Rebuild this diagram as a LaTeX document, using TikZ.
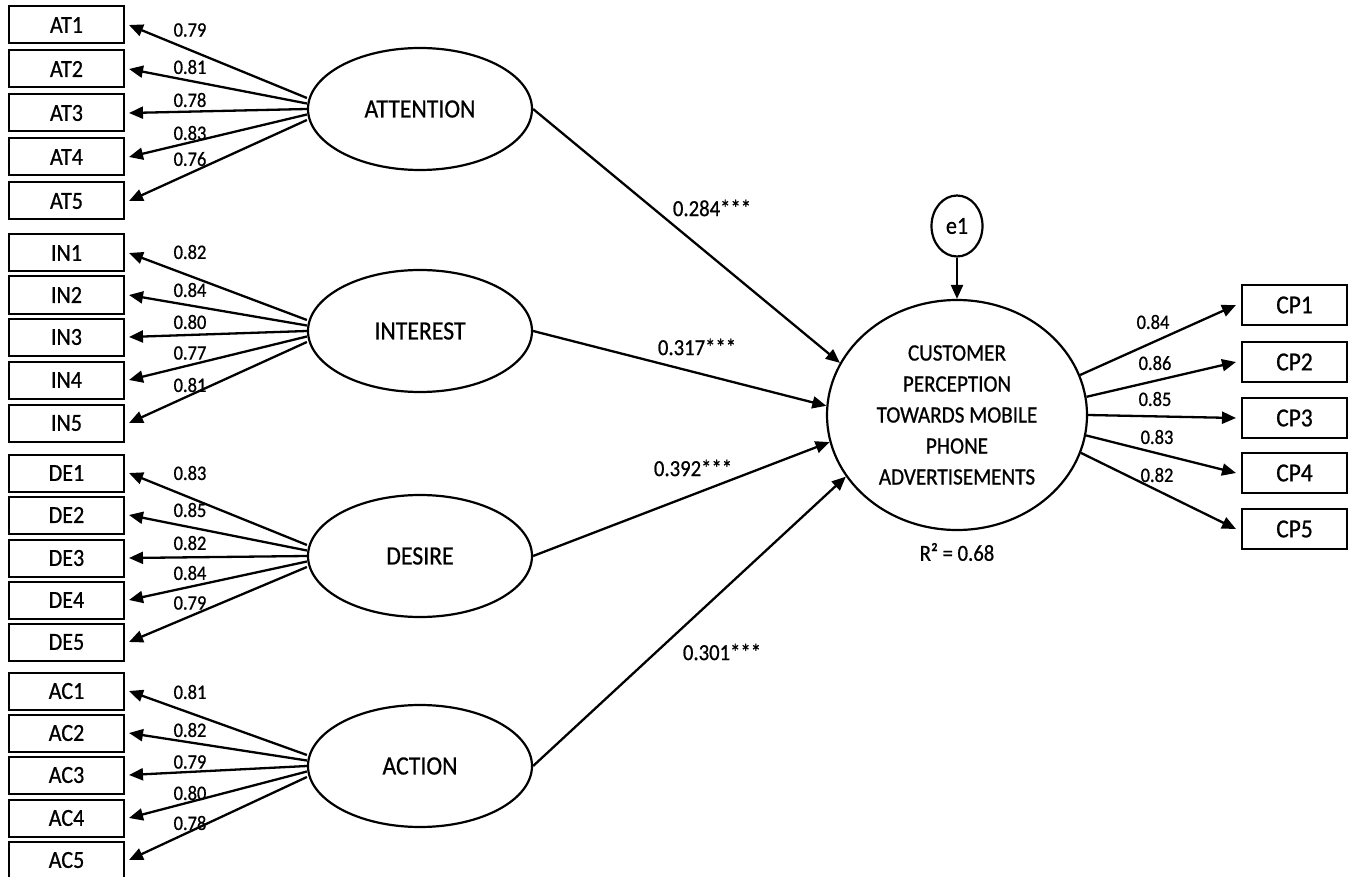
\documentclass[tikz,border=0pt]{standalone}
\usepackage{fontspec}
\setmainfont{Carlito}[FakeStretch=0.9,FakeBold=0.7]
\usetikzlibrary{shapes.geometric,arrows.meta,calc}
\begin{document}
\begin{tikzpicture}[x=1pt,y=-1pt,
  ind/.style={draw,line width=2pt,minimum width=115pt,minimum height=37pt,inner sep=0pt,font=\fontsize{24.5}{24.5}\selectfont},
  cpbox/.style={draw,line width=2pt,minimum width=105pt,minimum height=40pt,inner sep=0pt,font=\fontsize{26}{26}\selectfont},
  lat/.style={ellipse,draw,line width=2.2pt,minimum width=224pt,minimum height=122pt,inner sep=0pt,font=\fontsize{26.4}{26.4}\selectfont},
  arr/.style={line width=2.3pt,-{Triangle[length=14pt,width=12pt]}},
  lab/.style={font=\fontsize{20.5}{20.5}\selectfont,inner sep=0pt},
  coef/.style={font=\fontsize{23}{23}\selectfont,inner sep=0pt}]
\useasboundingbox (0,0) rectangle (1349,877);
\fill[white] (0,0) rectangle (1349,877);

% latent variables
\node[lat] (att) at (420,109) {ATTENTION};
\node[lat] (int) at (420,331) {INTEREST};
\node[lat] (des) at (420,556) {DESIRE};
\node[lat] (act) at (420,766) {ACTION};
\node[ellipse,draw,line width=2.2pt,minimum width=260pt,minimum height=230pt,inner sep=0pt,align=center,
      font=\fontsize{23.5}{31}\selectfont] (cp) at (957,415)
      {CUSTOMER\\PERCEPTION\\TOWARDS MOBILE\\PHONE\\ADVERTISEMENTS};
\node[ellipse,draw,line width=2.2pt,minimum width=51pt,minimum height=61pt,inner sep=0pt,
      font=\fontsize{24.5}{24.5}\selectfont] (e1) at (957,226) {e1};
\node[coef] (r2) at (957,552) {R² = 0.68};

% indicator boxes
\foreach \n/\y in {1/25,2/69,3/113,4/157,5/201}{\node[ind] (at\n) at (66.5,\y) {AT\n};}
\foreach \n/\y in {1/253,2/295,3/337,4/380,5/423}{\node[ind] (in\n) at (66.5,\y) {IN\n};}
\foreach \n/\y in {1/473,2/515,3/558,4/600,5/642}{\node[ind] (de\n) at (66.5,\y) {DE\n};}
\foreach \n/\y in {1/691,2/733,3/775,4/818,5/860}{\node[ind] (ac\n) at (66.5,\y) {AC\n};}
\foreach \n/\y in {1/305,2/362,3/418,4/473,5/529}{\node[cpbox] (cp\n) at (1294.5,\y) {CP\n};}

% loadings, left
\foreach \g/\l in {att/at,int/in,des/de,act/ac}{
  \foreach \n/\d in {1/-11,2/-5.5,3/0,4/5.5,5/11}{
    \draw[arr] ($(\g.west)+(0,\d)$) -- ([xshift=4pt]\l\n.east);
  }
}
\foreach \t/\y in {0.79/30,0.81/67,0.78/100,0.83/133,0.76/159,
                   0.82/252,0.84/290,0.80/322,0.77/353,0.81/385,
                   0.83/473,0.85/510,0.82/543,0.84/573,0.79/603,
                   0.81/692,0.82/730,0.79/762,0.80/793,0.78/823}{
  \node[lab] at (190,\y) {\t};
}

% structural paths
\draw[arr] (att.east) -- (cp.156);
\draw[arr] (int.east) -- (cp.176);
\draw[arr] (des.east) -- (cp.192);
\draw[arr] (act.east) -- (cp.209);
\node[coef] at (712,208) {0.284***};
\node[coef] at (697,347) {0.317***};
\node[coef] at (693,468) {0.392***};
\node[coef] at (722,652) {0.301***};

\draw[arr] (e1) -- (cp);

% loadings, right
\draw[arr] (cp.18) -- ([xshift=-5pt]cp1.west);
\draw[arr] (cp.8.7) -- ([xshift=-5pt]cp2.west);
\draw[arr] (cp.-0.5) -- ([xshift=-5pt]cp3.west);
\draw[arr] (cp.-9.7) -- ([xshift=-5pt]cp4.west);
\draw[arr] (cp.-17) -- ([xshift=-5pt]cp5.west);
\node[lab] at (1153,322) {0.84};
\node[lab] at (1155,363) {0.86};
\node[lab] at (1155,399) {0.85};
\node[lab] at (1157,437) {0.83};
\node[lab] at (1157,475) {0.82};
\end{tikzpicture}
\end{document}
